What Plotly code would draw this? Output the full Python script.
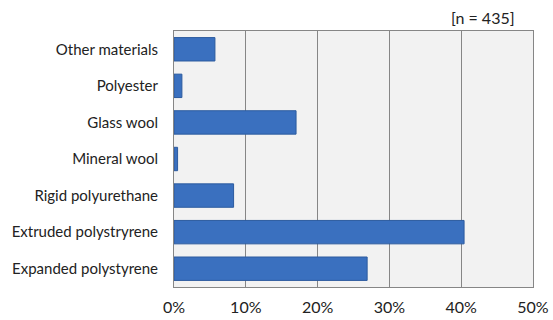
import plotly.graph_objects as go

categories = ["Expanded polystyrene", "Extruded polystryrene", "Rigid polyurethane",
              "Mineral wool", "Glass wool", "Polyester", "Other materials"]
values = [26.9, 40.4, 8.3, 0.5, 17.0, 1.1, 5.7]
tick_vals = [0, 10, 20, 30, 40, 50]
tick_text = ["0%", "10%", "20%", "30%", "40%", "50%"]
note = "[n = 435]"

W, H = 553, 320
ML, MR, MT, MB = 174, 20, 31, 33
PW, PH = W - ML - MR, H - MT - MB

fig = go.Figure()
fig.add_trace(go.Bar(
    y=categories, x=values, orientation="h",
    marker=dict(color="#3a70bf", line=dict(color="#2c5b9f", width=1)),
    hoverinfo="x+y",
))

fig.update_layout(
    width=W, height=H,
    margin=dict(l=ML, r=MR, t=MT, b=MB, autoexpand=False),
    paper_bgcolor="white", plot_bgcolor="#f2f2f2",
    font=dict(family="Lato, Open Sans, sans-serif", size=15, color="#222222"),
    bargap=0.36, showlegend=False,
    xaxis=dict(range=[0, 50], tickvals=tick_vals, ticktext=tick_text,
               showgrid=True, gridcolor="#868686", gridwidth=1,
               showline=True, linecolor="#868686", linewidth=1, mirror=True,
               zeroline=False, tickfont=dict(size=16), ticks="",
               ticklabelstandoff=6, automargin=False, fixedrange=True),
    yaxis=dict(showgrid=False, showline=True, linecolor="#868686", linewidth=1, mirror=True,
               ticks="", ticklabelstandoff=12, tickfont=dict(size=15),
               automargin=False, fixedrange=True),
    annotations=[dict(text=note, xref="paper", yref="paper",
                      x=(517 - ML) / PW, y=1 + (MT - 17) / PH,
                      xanchor="right", yanchor="middle",
                      showarrow=False, font=dict(size=16, color="#222222"))],
)
fig.write_html("out.html")
